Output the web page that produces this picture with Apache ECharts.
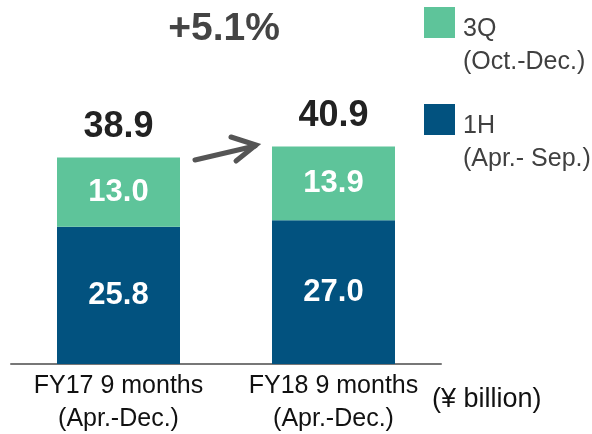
<!DOCTYPE html>
<html>
<head>
<meta charset="utf-8">
<script src="https://cdn.jsdelivr.net/npm/echarts@6/dist/echarts.min.js"></script>
<style>
  html, body { margin: 0; padding: 0; background: #fff; }
  #chart { width: 592px; height: 434px; }
</style>
</head>
<body>
<div id="chart"></div>
<script>
// data
var categories = ["FY17 9 months\n(Apr.-Dec.)", "FY18 9 months\n(Apr.-Dec.)"];
var firstHalf = [25.8, 27.0];
var thirdQuarter = [13.0, 13.9];
var totals = [38.9, 40.9];
var legendNames = ["3Q", "1H"];
var legendSub = ["(Oct.-Dec.)", "(Apr.- Sep.)"];
var legendColors = ["#5EC49A", "#02527F"];
var growthText = "+5.1%";
var unitText = "(¥ billion)";

var boldFont = '"Liberation Sans", Arial, sans-serif';
var plain = '"Liberation Sans", "Open Sans", sans-serif';

var myChart = echarts.init(document.getElementById("chart"));

var valueLabel = {
  show: true,
  position: "inside",
  formatter: function (p) { return p.value.toFixed(1); },
  fontFamily: boldFont,
  fontWeight: "bold",
  fontSize: 31,
  color: "#fff",
};

// legend drawn by hand: square on top, two text lines beside it
var legendGraphic = [];
[7, 104].forEach(function (y, i) {
  legendGraphic.push({
    type: "rect",
    shape: { x: 424, y: y, width: 31, height: 31 },
    style: { fill: legendColors[i] },
  });
  legendGraphic.push({
    type: "text",
    x: 463,
    y: y + 6,
    style: {
      text: legendNames[i] + "\n" + legendSub[i],
      fontFamily: plain,
      fontSize: 25,
      lineHeight: 33,
      fill: "#404040",
    },
  });
});

var option = {
  animation: false,
  title: {
    text: growthText,
    left: 219,
    top: 5,
    textAlign: "center",
    textStyle: { fontFamily: boldFont, fontWeight: "bold", fontSize: 39, color: "#444" },
  },
  grid: { left: 11, right: 151, top: 98, bottom: 70, outerBoundsMode: "none" },
  xAxis: {
    type: "category",
    data: categories,
    axisLine: { lineStyle: { color: "#777", width: 2 } },
    axisTick: { show: false },
    axisLabel: {
      interval: 0,
      margin: 6,
      fontFamily: plain,
      fontSize: 25,
      color: "#111",
      lineHeight: 33,
    },
  },
  yAxis: {
    type: "value",
    min: 0,
    max: 50,
    show: false,
  },
  series: [
    {
      name: "1H",
      type: "bar",
      stack: "a",
      barWidth: 123,
      data: firstHalf,
      itemStyle: { color: legendColors[1] },
      label: valueLabel,
    },
    {
      name: "3Q",
      type: "bar",
      stack: "a",
      barWidth: 123,
      data: thirdQuarter,
      itemStyle: { color: legendColors[0] },
      label: valueLabel,
    },
    {
      name: "total",
      type: "line",
      data: totals,
      symbol: "circle",
      symbolSize: 0,
      itemStyle: { color: "rgba(0,0,0,0)" },
      lineStyle: { width: 0, color: "rgba(0,0,0,0)" },
      silent: true,
      z: 5,
      label: {
        show: true,
        position: "top",
        distance: 12,
        formatter: function (p) { return p.value.toFixed(1); },
        fontFamily: boldFont,
        fontWeight: "bold",
        fontSize: 36,
        color: "#222",
      },
    },
  ],
  graphic: legendGraphic.concat([
    {
      type: "polyline",
      shape: { points: [[195, 160], [255, 146]] },
      style: { stroke: "#555", lineWidth: 5, fill: null, lineCap: "round" },
    },
    {
      type: "polyline",
      shape: { points: [[231, 137], [256, 145], [236, 161]] },
      style: { stroke: "#555", lineWidth: 5, fill: null, lineCap: "round", lineJoin: "miter" },
    },
    {
      type: "text",
      left: 432,
      top: 386,
      style: { text: unitText, fontFamily: plain, fontSize: 27, fill: "#111" },
    },
  ]),
};

myChart.setOption(option);
</script>
</body>
</html>
